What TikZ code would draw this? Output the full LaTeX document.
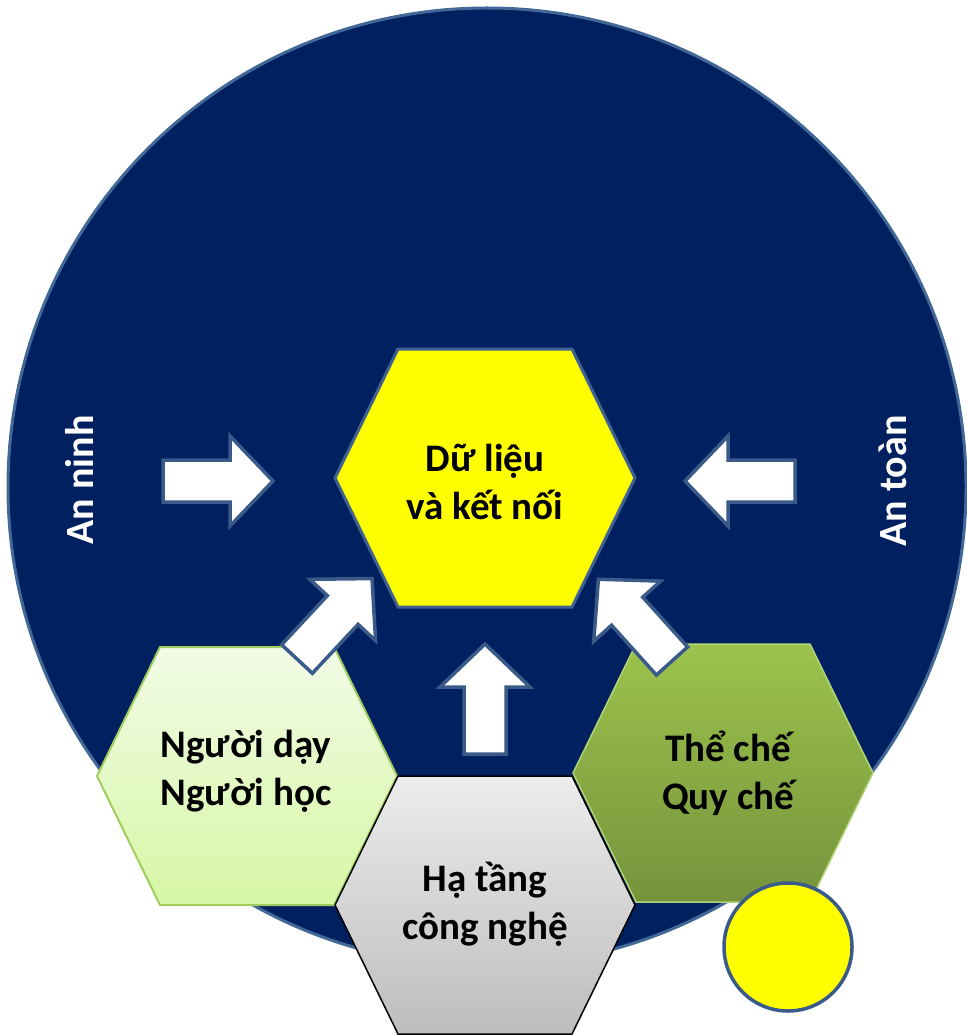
\documentclass[tikz,border=0pt]{standalone}
\usepackage{fontspec}
\setmainfont{Carlito}
\usetikzlibrary{calc}
\definecolor{navy}{RGB}{0,32,96}
\definecolor{pureyellow}{RGB}{255,255,0}
\definecolor{ringline}{RGB}{66,104,152}
\definecolor{hexline}{RGB}{62,98,145}
\definecolor{arrline}{RGB}{58,90,138}
\definecolor{ltgreenA}{RGB}{242,251,230}
\definecolor{ltgreenB}{RGB}{214,247,165}
\definecolor{ltgreenline}{RGB}{160,204,96}
\definecolor{olivA}{RGB}{156,195,76}
\definecolor{olivB}{RGB}{118,147,60}
\definecolor{olivline}{RGB}{178,212,120}
\definecolor{grayA}{RGB}{236,236,236}
\definecolor{grayB}{RGB}{189,189,189}
\newcommand\hexshape{(-87,-129) -- (87,-129) -- (150,0) -- (87,129) -- (-87,129) -- (-150,0) -- cycle}
\newcommand\blockarr[2]{%
  \path[arrowbox, shift={#1}, rotate=#2] (0,-21) -- (67,-21) -- (67,-45) -- (110,0) -- (67,45) -- (67,21) -- (0,21) -- cycle;}
\tikzset{
  arrowbox/.style={fill=white, draw=arrline, line width=3.5pt, line join=miter},
  hextext/.style={font=\fontsize{39}{48}\selectfont\bfseries, align=center, text=black, inner sep=0pt},
  sidetext/.style={font=\fontsize{40}{46}\selectfont\bfseries, text=white, inner sep=0pt, rotate=90, anchor=base},
}
\begin{document}
\begin{tikzpicture}[x=1pt,y=-1pt]
\useasboundingbox (0,0) rectangle (966,1035);
% big circle
\fill[navy] (487,487) circle[radius=480];
\draw[ringline, line width=3pt] (487,487) circle[radius=479];
% side texts
\node[sidetext] (tSec) at (93,480) {An ninh};
\node[sidetext] (tSafe) at (906.5,481) {An toàn};
% outer hexagons
\shade[top color=ltgreenA, bottom color=ltgreenB, draw=ltgreenline, line width=2pt, shift={(247,776)}] \hexshape;
\shade[top color=olivA, bottom color=olivB, draw=olivline, line width=1.5pt, shift={(723,773)}] \hexshape;
\shade[top color=grayA, bottom color=grayB, draw=black, line width=1.5pt, shift={(485,905)}] \hexshape;
% central hexagon
\path[fill=pureyellow, draw=hexline, line width=3pt, shift={(485,478)}] \hexshape;
% arrows
\blockarr{(163,481)}{0}
\blockarr{(795,481)}{180}
\blockarr{(485,754)}{90}
\blockarr{(297,659)}{47}
\blockarr{(672,661)}{132}
% small circle
\path[fill=pureyellow, draw=arrline, line width=3.5pt] (788,947) circle[radius=64];
% texts
\node[hextext] (tData) at (485,482) {Dữ liệu\\và kết nối};
\node[hextext] (tPeople) at (246,771) {Người dạy\\Người học};
\node[hextext] (tInst) at (728,773) {Thể chế\\Quy chế};
\node[hextext] (tInfra) at (485,904) {Hạ tầng\\công nghệ};
\end{tikzpicture}
\end{document}
